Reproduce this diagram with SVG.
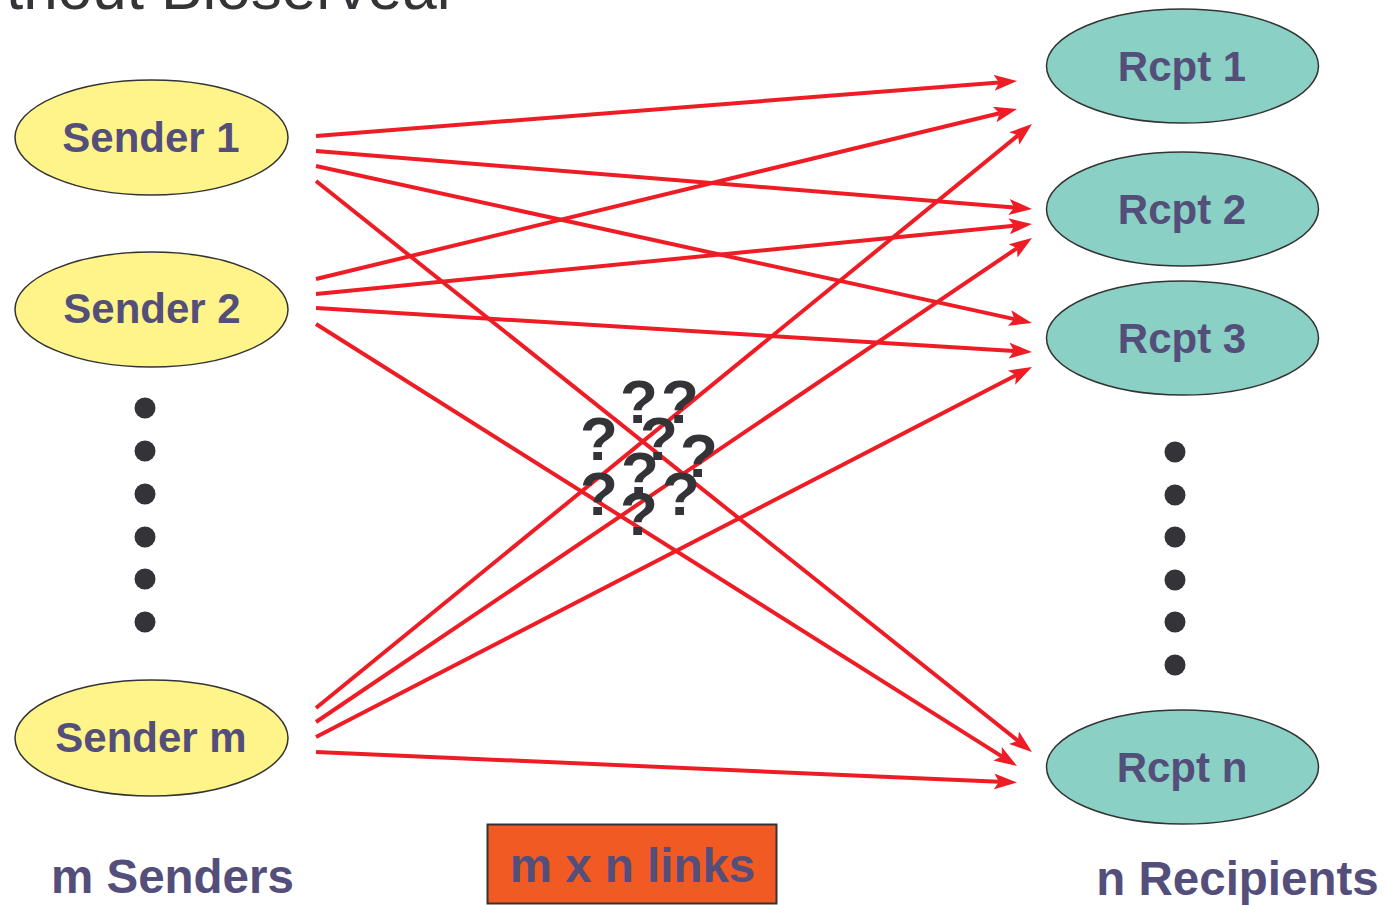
<svg xmlns="http://www.w3.org/2000/svg" width="1386" height="905" viewBox="0 0 1386 905">
<style>
.snd{fill:#FEF48A;stroke:#333;stroke-width:1.5}
.rcp{fill:#8BD0C4;stroke:#333;stroke-width:1.5}
.lbl{font-family:"Liberation Sans",Arial,sans-serif;font-weight:bold;fill:#534E7A;text-anchor:middle}
.q{font-family:"Liberation Sans",Arial,sans-serif;font-weight:bold;fill:#333338;font-size:62px;text-anchor:middle}
.dot{fill:#333338}
.ln{stroke:#EE1C25;stroke-width:4;fill:none;marker-end:url(#ah)}
</style>
<defs>
<marker id="ah" markerUnits="userSpaceOnUse" markerWidth="23" markerHeight="16" viewBox="0 0 23 16" refX="5" refY="8" orient="auto">
<path d="M0,0 L23,8 L0,16 L5,8 z" fill="#EE1C25"/>
</marker>
</defs>
<rect width="1386" height="905" fill="#fff"/>
<text x="6" y="9" font-family="Liberation Sans,Arial,sans-serif" font-size="62" fill="#333338">thout Bioserveal</text>

<g id="connectors">
<line class="ln" x1="316" y1="136" x2="999.1" y2="82.5"/>
<line class="ln" x1="316" y1="151" x2="1014.1" y2="207.5"/>
<line class="ln" x1="316" y1="166" x2="1014.4" y2="319.1"/>
<line class="ln" x1="316" y1="181" x2="1017.9" y2="740.8"/>
<line class="ln" x1="316" y1="279" x2="999.5" y2="113.3"/>
<line class="ln" x1="316" y1="294" x2="1014.1" y2="225.8"/>
<line class="ln" x1="316" y1="308" x2="1014.0" y2="350.9"/>
<line class="ln" x1="316" y1="324" x2="1001.8" y2="756.4"/>
<line class="ln" x1="316" y1="708" x2="1018.1" y2="135.4"/>
<line class="ln" x1="316" y1="722" x2="1017.1" y2="248.1"/>
<line class="ln" x1="316" y1="737" x2="1016.0" y2="375.3"/>
<line class="ln" x1="316" y1="752" x2="999.0" y2="781.7"/>
</g>

<g id="sender1"><ellipse class="snd" cx="151.5" cy="137.5" rx="136.5" ry="57.5"/><text class="lbl" x="151" y="152" font-size="42">Sender 1</text></g>
<g id="sender2"><ellipse class="snd" cx="151.5" cy="309.5" rx="136.5" ry="57.5"/><text class="lbl" x="152" y="323" font-size="42">Sender 2</text></g>
<g id="senderm"><ellipse class="snd" cx="151.5" cy="738" rx="136.5" ry="58"/><text class="lbl" x="151" y="752" font-size="42">Sender m</text></g>

<g id="rcpt1"><ellipse class="rcp" cx="1182.5" cy="66" rx="136" ry="57"/><text class="lbl" x="1182" y="81" font-size="42">Rcpt 1</text></g>
<g id="rcpt2"><ellipse class="rcp" cx="1182.5" cy="209" rx="136" ry="57"/><text class="lbl" x="1182" y="224" font-size="42">Rcpt 2</text></g>
<g id="rcpt3"><ellipse class="rcp" cx="1182.5" cy="338" rx="136" ry="57"/><text class="lbl" x="1182" y="353" font-size="42">Rcpt 3</text></g>
<g id="rcptn"><ellipse class="rcp" cx="1182.5" cy="767" rx="136" ry="57"/><text class="lbl" x="1182" y="782" font-size="42">Rcpt n</text></g>

<g id="sender-dots">
<circle class="dot" cx="145" cy="408" r="10.5"/>
<circle class="dot" cx="145" cy="451" r="10.5"/>
<circle class="dot" cx="145" cy="494" r="10.5"/>
<circle class="dot" cx="145" cy="537" r="10.5"/>
<circle class="dot" cx="145" cy="579" r="10.5"/>
<circle class="dot" cx="145" cy="622" r="10.5"/>
</g>
<g id="rcpt-dots">
<circle class="dot" cx="1175" cy="452" r="10.5"/>
<circle class="dot" cx="1175" cy="495" r="10.5"/>
<circle class="dot" cx="1175" cy="537" r="10.5"/>
<circle class="dot" cx="1175" cy="580" r="10.5"/>
<circle class="dot" cx="1175" cy="622" r="10.5"/>
<circle class="dot" cx="1175" cy="665" r="10.5"/>
</g>

<g id="questions">
<text class="q" x="639" y="423">?</text>
<text class="q" x="680" y="423">?</text>
<text class="q" x="599" y="460">?</text>
<text class="q" x="659" y="460">?</text>
<text class="q" x="699" y="477">?</text>
<text class="q" x="640" y="495">?</text>
<text class="q" x="599" y="515">?</text>
<text class="q" x="681" y="515">?</text>
<text class="q" x="639" y="535">?</text>
</g>

<g id="links-box">
<rect x="487.5" y="824.5" width="289" height="79" fill="#F15A22" stroke="#333" stroke-width="2"/>
<text class="lbl" x="632.5" y="882" font-size="47.5">m x n links</text>
</g>
<g id="m-senders"><text class="lbl" x="172.5" y="893" font-size="47.5">m Senders</text></g>
<g id="n-recipients"><text class="lbl" x="1237.5" y="895" font-size="47.5">n Recipients</text></g>
</svg>
